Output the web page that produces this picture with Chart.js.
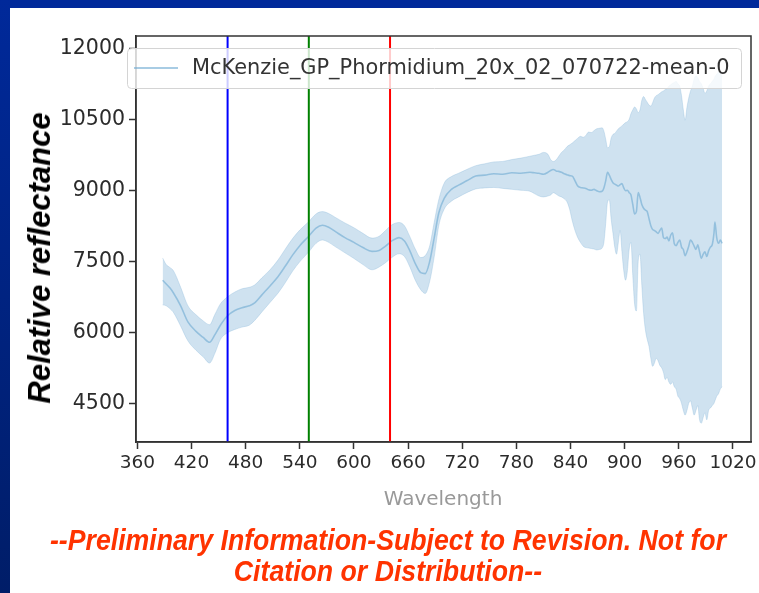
<!DOCTYPE html>
<html>
<head>
<meta charset="utf-8">
<script src="https://cdn.jsdelivr.net/npm/chart.js@4.4.0/dist/chart.umd.min.js"></script>
<style>
  html, body { margin: 0; padding: 0; }
  body { width: 759px; height: 593px; position: relative; overflow: hidden; background: #fff; }
  #topbar { position: absolute; left: 0; top: 0; width: 759px; height: 8px; background: #00299a; }
  #leftbar { position: absolute; left: 0; top: 0; width: 10px; height: 593px; background: linear-gradient(#00299a, #001d68); }
  #chart { position: absolute; left: 0; top: 0; }
  #ytitle { position: absolute; left: 40px; top: 258px; transform: translate(-50%, -50%) rotate(-90deg);
            font: italic bold 31px "Liberation Sans", Arial, sans-serif; color: #000; white-space: nowrap; }
  #xtitle { position: absolute; left: 443px; top: 498px; transform: translate(-50%, -50%);
            font: 20px "DejaVu Sans", sans-serif; color: #999; white-space: nowrap; }
  .note { position: absolute; left: 388px; transform: translate(-50%, -50%);
          font: italic bold 30px "Liberation Sans Narrow", "Liberation Sans", Arial, sans-serif;
          color: #ff3300; white-space: nowrap; }
</style>
</head>
<body>
<div id="topbar"></div>
<div id="leftbar"></div>
<canvas id="chart" width="759" height="593"></canvas>
<div id="ytitle">Relative reflectance</div>
<div id="xtitle">Wavelength</div>
<div class="note" id="note1" style="top:540px">--Preliminary Information-Subject to Revision. Not for</div>
<div class="note" id="note2" style="top:571px">Citation or Distribution--</div>
<script>
// spectrum: wavelength, mean and the shaded band
const seriesName = 'McKenzie_GP_Phormidium_20x_02_070722-mean-0';
const wavelengths = [388, 392, 396, 400, 408, 416, 425, 433, 440, 446, 452, 460, 468, 476, 484, 490, 498, 507, 516, 524,
  532, 540, 550, 558, 565, 572, 580, 590, 600, 610, 620, 628, 635, 642, 650, 656, 662, 668, 674, 679,
  684, 689, 694, 700, 708, 716, 725, 735, 745, 755, 765, 775, 785, 795, 800,
  805, 810, 815, 818, 821, 824, 827, 830, 833, 836, 839, 842, 845, 848, 851, 854, 857, 860, 863, 866,
  869, 872, 875, 877, 879, 881, 883, 885, 887, 889, 891, 893, 895, 897, 899, 901, 903, 905, 907, 909,
  911, 913, 915, 917, 919, 921, 923, 925, 927, 929, 931, 933, 935, 937, 939, 941, 943, 945, 947, 949,
  951, 953, 955, 957, 959, 961, 963, 965, 967, 969, 971, 973, 975, 977, 979, 981, 983, 985, 987, 989,
  991, 993, 995, 997, 999, 1000, 1002, 1004, 1006, 1008];
const meanVals = [7100, 7020, 6940, 6830, 6560, 6220, 6020, 5890, 5790, 5950, 6150, 6350, 6460, 6520, 6560, 6620, 6790, 6980, 7180, 7400,
  7630, 7830, 8030, 8200, 8260, 8220, 8120, 8000, 7900, 7790, 7710, 7730, 7820, 7930, 8000, 7930, 7720, 7450, 7260, 7240,
  7500, 8000, 8520, 8830, 9020, 9110, 9200, 9300, 9320, 9350, 9340, 9370, 9360, 9380, 9370,
  9360, 9340, 9380, 9420, 9440, 9410, 9400, 9380, 9350, 9330, 9310, 9300, 9200, 9090, 9060, 9050, 9040, 9010, 9000, 9020,
  8990, 8970, 8980, 9050, 9200, 9380, 9320, 9230, 9160, 9130, 9110, 9090, 9120, 9140, 9050, 8990, 9000, 8950, 8900, 8700,
  8500, 8550, 8950, 8850, 8700, 8620, 8580, 8550, 8400, 8250, 8170, 8150, 8120, 8090, 8150, 8200, 8000, 7980, 8010, 7930,
  8050, 8100, 7870, 7830, 7900, 7950, 7800, 7750, 7620, 7700, 7820, 7950, 7900, 7820, 7750, 7850, 7700, 7560, 7650, 7700,
  7600, 7720, 7800, 7850, 8100, 8330, 8000, 7880, 7950, 7880];
const upperVals = [7570, 7430, 7370, 7300, 6950, 6560, 6370, 6240, 6160, 6380, 6600, 6750, 6850, 6920, 6950, 7000, 7150, 7320, 7530, 7760,
  7980, 8160, 8340, 8500, 8550, 8510, 8420, 8310, 8210, 8090, 7990, 8030, 8150, 8270, 8320, 8250, 8020, 7760, 7580, 7620,
  7830, 8330, 8800, 9150, 9290, 9360, 9440, 9520, 9560, 9600, 9610, 9650, 9680, 9720, 9740,
  9760, 9800, 9760, 9650, 9610, 9640, 9720, 9800, 9850, 9920, 9960, 10000, 10050, 10100, 10140, 10120, 10160, 10230, 10220, 10260,
  10300, 10310, 10320, 10250, 10080, 9900, 9920, 10100, 10180, 10200, 10250, 10300, 10330, 10360, 10400, 10430, 10450, 10500, 10620, 10700,
  10760, 10720, 10640, 10700, 10900, 10980, 10920, 10860, 10800, 10780, 10850, 10950, 11000, 11020, 11050, 11080, 11100, 11130, 11150, 11200,
  11230, 11260, 11280, 11300, 11250, 11200, 11000, 10700, 10480, 10750, 10950, 11100, 11200, 11350, 11420, 11380, 11300, 11250, 11150, 11050,
  11100, 11200, 11250, 11300, 11350, 11400, 11450, 11500, 11480, 11400];
const lowerVals = [6580, 6560, 6500, 6420, 6130, 5820, 5620, 5480, 5350, 5560, 5850, 5990, 6060, 6110, 6150, 6250, 6430, 6630, 6830, 7050,
  7290, 7490, 7700, 7880, 7950, 7900, 7800, 7680, 7560, 7430, 7320, 7380, 7470, 7580, 7660, 7600, 7380, 7100, 6900, 6820,
  7080, 7600, 8250, 8600, 8770, 8860, 8950, 9030, 9050, 9060, 9040, 9020, 9000, 8980, 8930,
  8880, 8860, 8880, 8900, 8950, 8920, 8880, 8860, 8820, 8760, 8600, 8350, 8150, 8000, 7900, 7820, 7790, 7780, 7770, 7760,
  7740, 7750, 7780, 7900, 8300, 8750, 8800, 8400, 8100, 7800, 7650, 7900, 8150, 7700, 7300, 7100, 7300, 7750, 7900, 7200,
  6600, 6450, 7500, 7650, 7000, 6400, 6050, 5850, 5700, 5450, 5280, 5350, 5450, 5400, 5300, 5250, 5150, 5000, 5050, 4950,
  4900, 4950, 4850, 4800, 4650, 4600, 4500, 4350, 4250, 4350, 4500, 4550, 4400, 4250, 4350, 4450, 4150, 4080, 4200, 4300,
  4150, 4350, 4400, 4450, 4500, 4550, 4650, 4700, 4800, 4850];

// reference wavelengths marked with vertical lines
const markerLines = [460, 550, 640];
const markerColors = ['#0000ff', '#008000', '#ff0000'];

const xTicks = [360, 420, 480, 540, 600, 660, 720, 780, 840, 900, 960, 1020];
const yTicks = [4500, 6000, 7500, 9000, 10500, 12000];
const xMin = 358.5, xMax = 1040;
const yMin = 3682, yMax = 12260;

const pts = vals => wavelengths.map((w, i) => ({ x: w, y: vals[i] }));

const lineColor = 'rgba(110,170,210,0.6)';
const bandColor = 'rgba(128,180,215,0.38)';

// box round the plot area + legend box drawn over the data
const framePlugin = {
  id: 'frame',
  afterDatasetsDraw(chart) {
    const { ctx, chartArea: a } = chart;
    ctx.save();
    ctx.strokeStyle = '#333';
    ctx.lineWidth = 1.5;
    ctx.strokeRect(a.left, a.top, a.right - a.left, a.bottom - a.top);
    ctx.restore();
  },
  afterDraw(chart) {
    const ctx = chart.ctx;
    const ds = chart.data.datasets.find(d => d.label === seriesName);
    ctx.save();
    ctx.beginPath();
    ctx.roundRect(127.5, 48.5, 614, 40, 4);
    ctx.fillStyle = 'rgba(255,255,255,0.8)';
    ctx.fill();
    ctx.strokeStyle = '#d4d4d4';
    ctx.lineWidth = 1;
    ctx.stroke();
    ctx.beginPath();
    ctx.moveTo(134, 68);
    ctx.lineTo(178, 68);
    ctx.strokeStyle = ds.borderColor;
    ctx.lineWidth = 2;
    ctx.stroke();
    ctx.fillStyle = '#333';
    ctx.font = '20.9px "DejaVu Sans", sans-serif';
    ctx.textBaseline = 'middle';
    ctx.fillText(ds.label, 192, 69);
    ctx.restore();
  }
};

const noPad = s => { s.paddingLeft = s.paddingRight = s.paddingTop = s.paddingBottom = 0; };
const plain = v => String(v);

new Chart(document.getElementById('chart'), {
  type: 'line',
  data: {
    datasets: [
      ...markerLines.map((w, i) => ({
        label: 'marker' + w,
        data: [{ x: w, y: yMin }, { x: w, y: yMax }],
        borderColor: markerColors[i], borderWidth: 2, pointRadius: 0, fill: false, order: 0
      })),
      {
        label: seriesName, data: pts(meanVals),
        borderColor: lineColor, borderWidth: 1.6, pointRadius: 0, fill: false,
        cubicInterpolationMode: 'monotone', order: 1
      },
      {
        label: 'upper', data: pts(upperVals),
        borderColor: 'rgba(128,180,215,0.3)', borderWidth: 1, pointRadius: 0,
        fill: '+1', backgroundColor: bandColor, cubicInterpolationMode: 'monotone', order: 2
      },
      {
        label: 'lower', data: pts(lowerVals),
        borderColor: 'rgba(128,180,215,0.3)', borderWidth: 1, pointRadius: 0, fill: false,
        cubicInterpolationMode: 'monotone', order: 2
      }
    ]
  },
  options: {
    responsive: false,
    animation: false,
    layout: { padding: { left: 0, top: 36, right: 8, bottom: 91 } },
    plugins: { legend: { display: false }, tooltip: { enabled: false } },
    scales: {
      x: {
        type: 'linear', min: xMin, max: xMax,
        afterBuildTicks: s => { s.ticks = xTicks.map(v => ({ value: v })); },
        afterFit: s => { s.height = 60; noPad(s); },
        ticks: { callback: plain, color: '#2b2b2b', font: { family: 'DejaVu Sans', size: 18.5 }, padding: 3, maxRotation: 0, autoSkip: false },
        grid: { drawOnChartArea: false, drawTicks: true, tickLength: 7, tickColor: '#333', tickWidth: 1.5 },
        border: { display: true, color: '#333', width: 1.5 }
      },
      y: {
        type: 'linear', min: yMin, max: yMax,
        afterBuildTicks: s => { s.ticks = yTicks.map(v => ({ value: v })); },
        afterFit: s => { s.width = 136; noPad(s); },
        ticks: { callback: plain, color: '#2b2b2b', font: { family: 'DejaVu Sans', size: 20.5 }, padding: 4, autoSkip: false },
        grid: { drawOnChartArea: false, drawTicks: true, tickLength: 7, tickColor: '#333', tickWidth: 1.5 },
        border: { display: true, color: '#333', width: 1.5 }
      }
    }
  },
  plugins: [framePlugin]
});

// squeeze the disclaimer lines to the width they take in the slide
const n1 = document.getElementById('note1');
const n2 = document.getElementById('note2');
const k = 676 / n1.offsetWidth;
[n1, n2].forEach(n => { n.style.transform = 'translate(-50%, -50%) scaleX(' + k + ')'; });
</script>
</body>
</html>
